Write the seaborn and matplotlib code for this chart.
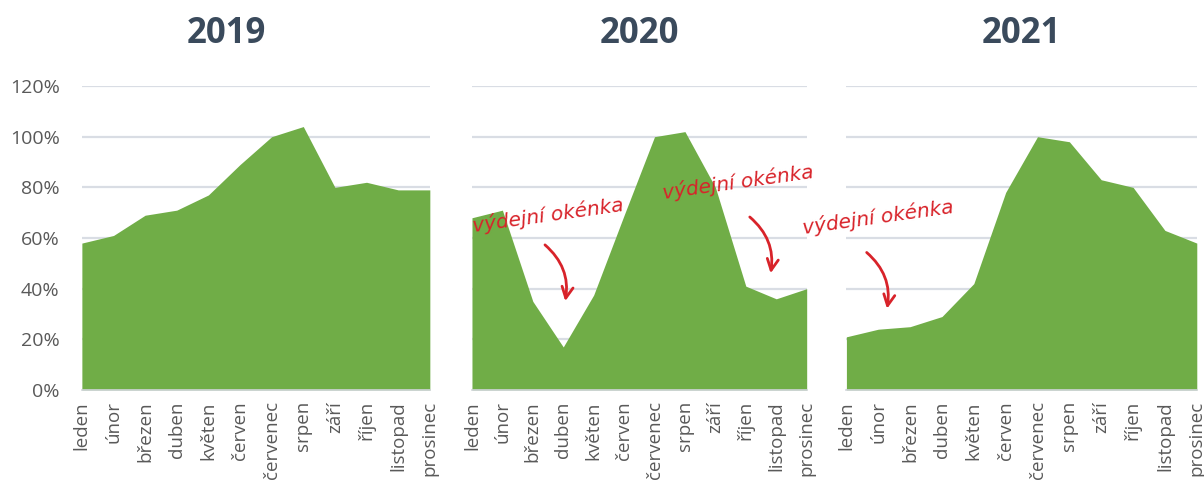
import numpy as np
import pandas as pd
import matplotlib
matplotlib.use("Agg")
import matplotlib.pyplot as plt
import seaborn as sns

months = ['leden', 'únor', 'březen', 'duben', 'květen', 'červen',
          'červenec', 'srpen', 'září', 'říjen', 'listopad', 'prosinec']
years = ['2019', '2020', '2021']
v2019 = [0.58, 0.61, 0.69, 0.71, 0.77, 0.89, 1.00, 1.04, 0.80, 0.82, 0.79, 0.79]
v2020 = [0.68, 0.71, 0.35, 0.17, 0.375, 0.69, 1.00, 1.02, 0.80, 0.41, 0.36, 0.40]
v2021 = [0.21, 0.24, 0.25, 0.29, 0.42, 0.78, 1.00, 0.98, 0.83, 0.80, 0.63, 0.58]
yticks = [0, 0.2, 0.4, 0.6, 0.8, 1.0, 1.2]
note = 'výdejní okénka'

GREEN = '#70AD47'
RED = '#D8232A'

sns.set_theme(style="white")
plt.rcParams['font.family'] = ['Open Sans', 'DejaVu Sans']

fig = plt.figure(figsize=(12.04, 4.86), dpi=100)
boxes = [(0.068, 0.289), (0.392, 0.278), (0.703, 0.291)]
title_x = [0.414, 0.5, 0.5]
series = [v2019, v2020, v2021]

axes = []
for (left, w), tx, yr, vals in zip(boxes, title_x, years, series):
    ax = fig.add_axes([left, 0.1975, w, 0.6255])
    df = pd.DataFrame({'m': np.arange(12), 'v': vals})
    sns.lineplot(data=df, x='m', y='v', ax=ax, color=GREEN, linewidth=0)
    ax.fill_between(df['m'], df['v'], color=GREEN, linewidth=0, zorder=2)
    ax.set_xlim(0, 11)
    ax.set_ylim(0, 1.2)
    ax.set_yticks(yticks)
    ax.yaxis.grid(True, color='#D9DDE4', linewidth=1.6, zorder=0)
    ax.set_axisbelow(True)
    ax.set_xticks(np.arange(12))
    ax.set_xticklabels(months, rotation=90, fontsize=13.5, color='#595959')
    ax.tick_params(axis='x', length=5, width=1, color='#D0D4DA', pad=3)
    ax.tick_params(axis='y', length=0, labelsize=14, labelcolor='#595959', pad=16)
    for s in ['top', 'right', 'left']:
        ax.spines[s].set_visible(False)
    ax.spines['bottom'].set_color('#D0D4DA')
    ax.spines['bottom'].set_linewidth(1.2)
    ax.set_xlabel('')
    ax.set_ylabel('')
    ax.set_title(yr, fontsize=25, fontweight='bold', color='#3A4A5C', pad=31, x=tx)
    axes.append(ax)

axes[0].set_yticklabels([f'{int(round(t * 100))}%' for t in yticks])
for ax in axes[1:]:
    ax.set_yticklabels([])

# handwritten notes with arrows
notes = [
    (axes[1], (2.5, 0.69), (2.33, 0.58), (3.05, 0.34)),
    (axes[1], (8.75, 0.82), (9.06, 0.69), (9.8, 0.45)),
    (axes[2], (1.0, 0.68), (0.57, 0.55), (1.26, 0.31)),
]
for ax, txt_xy, a_start, a_end in notes:
    ax.text(txt_xy[0], txt_xy[1], note, color=RED, fontsize=14.5, style='italic',
            family=['DejaVu Sans'], rotation=8, ha='center', va='center',
            clip_on=False, zorder=5)
    ax.annotate('', xy=a_end, xytext=a_start, zorder=5, annotation_clip=False,
                arrowprops=dict(arrowstyle='->', color=RED, lw=2.0,
                                mutation_scale=20,
                                connectionstyle='arc3,rad=-0.3'))

fig.savefig('out.png', dpi=100)
